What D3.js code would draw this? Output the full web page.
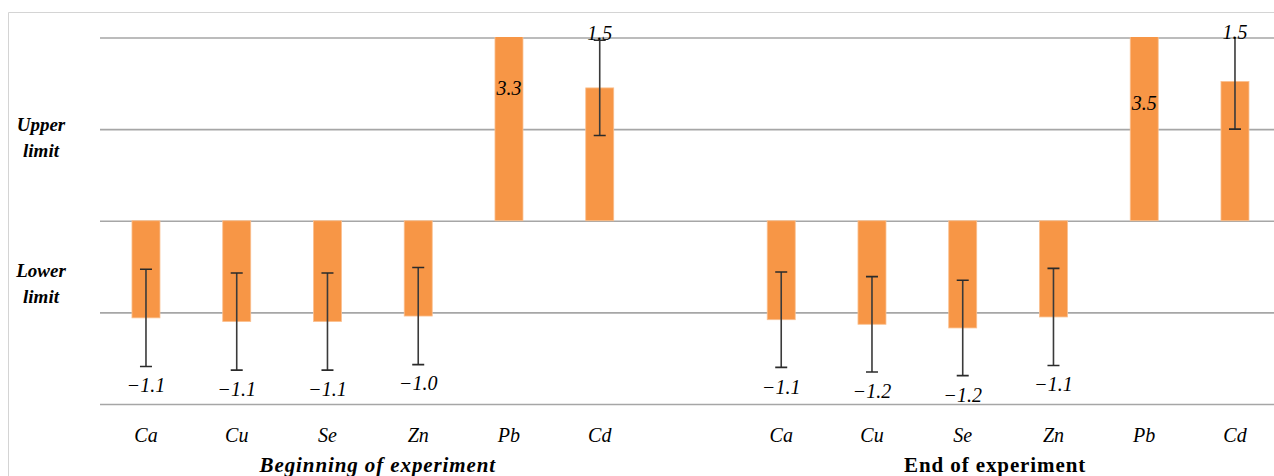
<!DOCTYPE html>
<html>
<head>
<meta charset="utf-8">
<script src="https://cdn.jsdelivr.net/npm/d3@7"></script>
<style>
  html, body { margin: 0; padding: 0; background: #fff; }
  svg { display: block; }
  text { font-family: "Liberation Serif", "DejaVu Serif", serif; fill: #000; }
</style>
</head>
<body>
<svg id="chart" width="1274" height="476"></svg>
<script>
// ---- data ----
const categories = ["Ca", "Cu", "Se", "Zn", "Pb", "Cd"];
const groups = ["Beginning of experiment", "End of experiment"];
const beginValues = [-1.06, -1.10, -1.10, -1.04, 3.3, 1.45];
const endValues   = [-1.08, -1.13, -1.17, -1.05, 3.5, 1.52];
const beginErrors = [0.53, 0.53, 0.53, 0.53, 0.53, 0.52];
const endErrors   = [0.52, 0.52, 0.52, 0.53, 0.53, 0.52];
const beginLabels = ["\u22121.1", "\u22121.1", "\u22121.1", "\u22121.0", "3.3", "1.5"];
const endLabels   = ["\u22121.1", "\u22121.2", "\u22121.2", "\u22121.1", "3.5", "1.5"];
const yTicks = [-2, -1, 0, 1, 2];
const yBandLabels = [
  { lines: ["Upper", "limit"], at: 0.91 },
  { lines: ["Lower", "limit"], at: -0.685 }
];

// ---- build ----
const svg = d3.select("#chart");
const W = 1274, H = 476;

const keys = [];
const rows = [];
categories.forEach((c, i) => { const k = "b-" + c; keys.push(k);
  rows.push({ key: k, cat: c, v: beginValues[i], e: beginErrors[i], lab: beginLabels[i], g: 0 }); });
keys.push("gap");
categories.forEach((c, i) => { const k = "e-" + c; keys.push(k);
  rows.push({ key: k, cat: c, v: endValues[i], e: endErrors[i], lab: endLabels[i], g: 1 }); });

const x = d3.scaleBand().domain(keys).range([100.6, 100.6 + 13 * 90.75]).padding(0);
const y = d3.scaleLinear().domain([-2, 2]).range([404, 37.5]);
const cx = k => x(k) + x.bandwidth() / 2;
const barW = 28;

// frame
svg.append("path").attr("d", `M8.5,${H} L8.5,12.5 L${W},12.5`)
  .attr("fill", "none").attr("stroke", "#d4d4d4").attr("stroke-width", 1);

// gridlines via axis
const grid = svg.append("g").attr("transform", "translate(100,0)")
  .call(d3.axisLeft(y).tickValues(yTicks).tickSize(-(W - 100)).tickFormat(""));
grid.select(".domain").remove();
grid.selectAll(".tick line").attr("stroke", "#a6a6a6").attr("stroke-width", 1.6);

// clip
svg.append("clipPath").attr("id", "plotclip").append("rect")
  .attr("x", 0).attr("y", y(2) - 0.5).attr("width", W).attr("height", y(-2) - y(2) + 1);

const plot = svg.append("g").attr("clip-path", "url(#plotclip)");

// bars
plot.selectAll("rect.bar").data(rows).join("rect").attr("class", "bar")
  .attr("x", d => cx(d.key) - barW / 2)
  .attr("width", barW)
  .attr("y", d => Math.min(y(d.v), y(0)))
  .attr("height", d => Math.abs(y(d.v) - y(0)))
  .attr("fill", "#F79646")
  .attr("stroke", "#FAC090").attr("stroke-width", 0.8);

// error bars
const eb = plot.selectAll("g.err").data(rows.filter(d => Math.abs(d.v) < 2)).join("g").attr("class", "err");
eb.append("line")
  .attr("x1", d => cx(d.key)).attr("x2", d => cx(d.key))
  .attr("y1", d => y(d.v + d.e)).attr("y2", d => y(d.v - d.e))
  .attr("stroke", "#3a3a3a").attr("stroke-width", 1.6);
[1, -1].forEach(s => {
  eb.append("line")
    .attr("x1", d => cx(d.key) - 6).attr("x2", d => cx(d.key) + 6)
    .attr("y1", d => y(d.v + s * d.e)).attr("y2", d => y(d.v + s * d.e))
    .attr("stroke", "#2a2a2a").attr("stroke-width", 1.6);
});

// value labels
function labelY(d) {
  if (d.v < 0) return y(d.v) + 67;
  if (d.v > 2) return y(2) + (d.v - 2) * 75 - 47;
  return Math.max(y(d.v) - 55, 32);
}
svg.selectAll("text.val").data(rows).join("text").attr("class", "val")
  .attr("x", d => cx(d.key)).attr("y", d => labelY(d))
  .attr("text-anchor", "middle").attr("dominant-baseline", "central")
  .style("font-style", "italic").style("font-size", "20px")
  .text(d => d.lab);

// category labels
svg.selectAll("text.cat").data(rows).join("text").attr("class", "cat")
  .attr("x", d => cx(d.key)).attr("y", 435)
  .attr("text-anchor", "middle").attr("dominant-baseline", "central")
  .style("font-style", "italic").style("font-size", "20px")
  .text(d => d.cat);

// group labels
const gMid0 = (cx("b-" + categories[0]) + cx("b-" + categories[5])) / 2 + 5;
const gMid1 = (cx("e-" + categories[0]) + cx("e-" + categories[5])) / 2 - 13;
svg.append("text").attr("x", gMid0).attr("y", 465)
  .attr("text-anchor", "middle").attr("dominant-baseline", "central")
  .style("font-weight", "bold").style("font-style", "italic").style("font-size", "21px")
  .style("letter-spacing", "0.9px")
  .text(groups[0]);
svg.append("text").attr("x", gMid1).attr("y", 465)
  .attr("text-anchor", "middle").attr("dominant-baseline", "central")
  .style("font-weight", "bold").style("font-size", "21px")
  .style("letter-spacing", "0.9px")
  .text(groups[1]);

// left band labels
yBandLabels.forEach(b => {
  const t = svg.append("text").attr("x", 41).attr("text-anchor", "middle")
    .style("font-weight", "bold").style("font-style", "italic").style("font-size", "19px");
  b.lines.forEach((ln, i) => {
    t.append("tspan").attr("x", 41)
      .attr("y", y(b.at) - 13 + i * 26)
      .attr("dominant-baseline", "central")
      .text(ln);
  });
});
</script>
</body>
</html>
